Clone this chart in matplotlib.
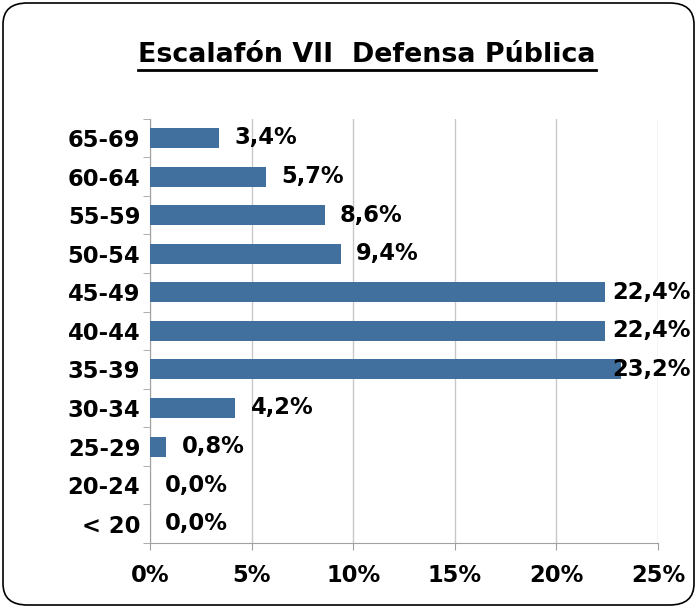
import matplotlib
matplotlib.use("Agg")
import matplotlib.pyplot as plt
from matplotlib.patches import FancyBboxPatch
from matplotlib.lines import Line2D
import numpy as np

categories = ["< 20", "20-24", "25-29", "30-34", "35-39", "40-44", "45-49",
              "50-54", "55-59", "60-64", "65-69"]
values = [0.0, 0.0, 0.8, 4.2, 23.2, 22.4, 22.4, 9.4, 8.6, 5.7, 3.4]
labels = ["0,0%", "0,0%", "0,8%", "4,2%", "23,2%", "22,4%", "22,4%",
          "9,4%", "8,6%", "5,7%", "3,4%"]
xticks = [0, 5, 10, 15, 20, 25]
xticklabels = ["0%", "5%", "10%", "15%", "20%", "25%"]
title = "Escalafón VII  Defensa Pública"

W, H = 697, 608
fig = plt.figure(figsize=(W / 100, H / 100), dpi=100)
ax = fig.add_axes([150 / W, (H - 543) / H, (658 - 150) / W, (543 - 118.7) / H])

y = np.arange(len(categories))
ax.barh(y, values, height=0.52, color="#41709F", linewidth=0, zorder=3)
ax.set_xlim(0, 25)
ax.set_ylim(-0.5, len(categories) - 0.5)
ax.set_xticks(xticks)
ax.set_xticklabels(xticklabels, fontsize=16.3, fontweight="bold")
ax.set_yticks(y)
ax.set_yticklabels(categories, fontsize=16.3, fontweight="bold")
ax.set_yticks(np.arange(-0.5, len(categories), 1), minor=True)
ax.tick_params(axis="y", which="major", length=0, pad=7)
ax.tick_params(axis="y", which="minor", length=5, color="#A0A0A0", direction="out")
ax.tick_params(axis="x", which="major", length=5, color="#A0A0A0", direction="out", pad=10)
ax.grid(axis="x", color="#C8C8C8", linewidth=1, zorder=0)
for s in ["top", "right"]:
    ax.spines[s].set_visible(False)
for s in ["left", "bottom"]:
    ax.spines[s].set_color("#A0A0A0")

for yi, v, lab in zip(y, values, labels):
    xl = min(v + 0.75, 22.75)
    ax.text(xl, yi, lab, va="center", ha="left", fontsize=16.3, fontweight="bold",
            zorder=4, clip_on=False)

t = fig.text(367 / W, 1 - 55 / H, title, ha="center", va="center",
             fontsize=19.4, fontweight="bold")
fig.canvas.draw()
bb = t.get_window_extent()
yline = (bb.y0 - 2) / H
fig.add_artist(Line2D([bb.x0 / W, bb.x1 / W], [yline, yline], color="black", linewidth=2))

border = FancyBboxPatch((3 / W, 3 / H), (W - 6) / W, (H - 6) / H,
                        boxstyle="round,pad=0,rounding_size=0.035",
                        transform=fig.transFigure, facecolor="none",
                        edgecolor="black", linewidth=1.2)
fig.add_artist(border)

fig.savefig("out.png", dpi=100)
